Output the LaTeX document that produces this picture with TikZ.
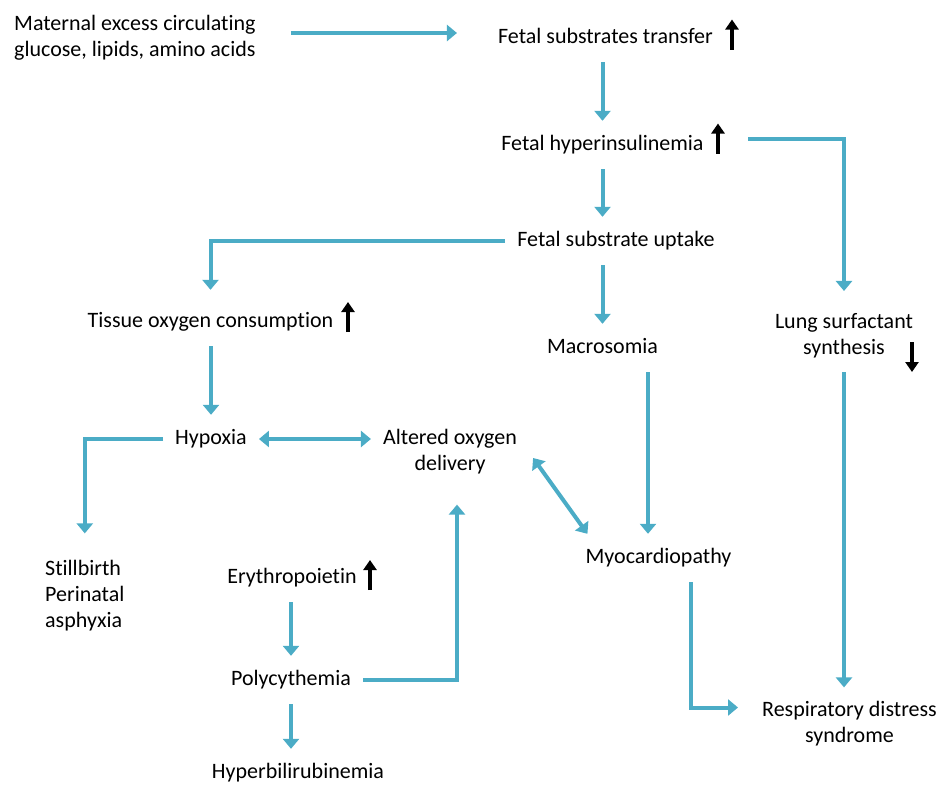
\documentclass[tikz,border=0pt]{standalone}
\usepackage{fontspec}
\setmainfont[Ligatures=NoCommon]{Carlito}
\usetikzlibrary{arrows.meta}
\definecolor{flowblue}{RGB}{75,172,198}
\tikzset{
  box/.style={inner xsep=12pt, inner ysep=14pt, text height=15pt, text depth=5pt, anchor=base},
  multibox/.style={inner xsep=12pt, inner ysep=14pt, align=center},
  flow/.style={draw=flowblue, line width=4pt, -{Triangle[width=16pt,length=10pt]}},
  flowboth/.style={draw=flowblue, line width=4pt, {Triangle[width=16pt,length=10pt]}-{Triangle[width=16pt,length=10pt]}},
  risemark/.style={minimum width=16pt, minimum height=30pt, inner sep=0pt,
    path picture={\draw[black, line width=3.4pt, -{Triangle[width=13pt,length=10pt]}] (path picture bounding box.south) -- (path picture bounding box.north);}},
  fallmark/.style={minimum width=16pt, minimum height=30pt, inner sep=0pt,
    path picture={\draw[black, line width=3.4pt, -{Triangle[width=13pt,length=10pt]}] (path picture bounding box.north) -- (path picture bounding box.south);}}
}
\begin{document}
\begin{tikzpicture}[x=1pt, y=-1pt, font=\fontsize{22pt}{26pt}\selectfont]
\useasboundingbox (0,0) rectangle (940,785);
\node (maternal) at (2,37.5) [multibox, align=left, anchor=west] {Maternal excess circulating\\glucose, lipids, amino acids};
\node (transfer) at (605.5,43) [box] {Fetal substrates transfer};
\node (transferup) at (732,34.5) [risemark] {};
\node (insulin) at (602.5,150) [box] {Fetal hyperinsulinemia};
\node (insulinup) at (718,138.5) [risemark] {};
\node (uptake) at (616,246) [box] {Fetal substrate uptake};
\node (tissue) at (210.5,327) [box] {Tissue oxygen consumption};
\node (tissueup) at (348,317) [risemark] {};
\node (macro) at (602.5,353) [box] {Macrosomia};
\node (lung) at (844,335.5) [multibox] {Lung surfactant\\synthesis};
\node (lungdown) at (912,357) [fallmark] {};
\node (hypoxia) at (211,444) [box] {Hypoxia};
\node (altered) at (450,452) [multibox] {Altered oxygen\\delivery};
\node (still) at (33,596) [multibox, align=left, anchor=west] {Stillbirth\\Perinatal\\asphyxia};
\node (epo) at (292,583) [box] {Erythropoietin};
\node (epoup) at (370,575) [risemark] {};
\node (poly) at (291,685) [box] {Polycythemia};
\node (bili) at (298,778) [box] {Hyperbilirubinemia};
\node (myo) at (658.5,563) [box] {Myocardiopathy};
\node (rds) at (849.5,724) [multibox] {Respiratory distress\\syndrome};
\draw[flow, shorten <=23pt, shorten >=29pt] ([yshift=4.5pt]maternal.east) -- ([yshift=4.5pt]maternal.east -| transfer.west);
\draw[flow] (transfer.south -| insulin) -- (insulin.north);
\draw[flow] ([xshift=22pt]insulinup.east) -| ([yshift=8pt]lung.north);
\draw[flow] (insulin.south) -- (insulin.south |- uptake.north);
\draw[flow] (uptake.west) -| ([yshift=8pt]tissue.north);
\draw[flow] (uptake.south -| macro) -- (macro.north);
\draw[flow] (tissue.south -| hypoxia) -- (hypoxia.north);
\draw[flowboth] (hypoxia.east) -- (hypoxia.east -| altered.west);
\draw[flow] (hypoxia.west) -| ([yshift=13pt]still.north);
\draw[flow] ([xshift=45.5pt]macro.south) -- ([xshift=45.5pt]macro.south |- myo.north);
\draw[flowboth] ([shift={(4pt,-6pt)}]altered.east) -- ([xshift=14pt]myo.north west);
\draw[flow] (epo.south -| poly) -- (poly.north);
\draw[flow] (poly.east) -| ([shift={(7pt,-16pt)}]altered.south);
\draw[flow] (poly.south) -- (poly.south |- bili.north);
\draw[flow] (lung.south) -- (lung.south |- rds.north);
\draw[flow] ([xshift=32pt]myo.south) |- ([shift={(-12pt,16.5pt)}]rds.west);
\end{tikzpicture}
\end{document}
